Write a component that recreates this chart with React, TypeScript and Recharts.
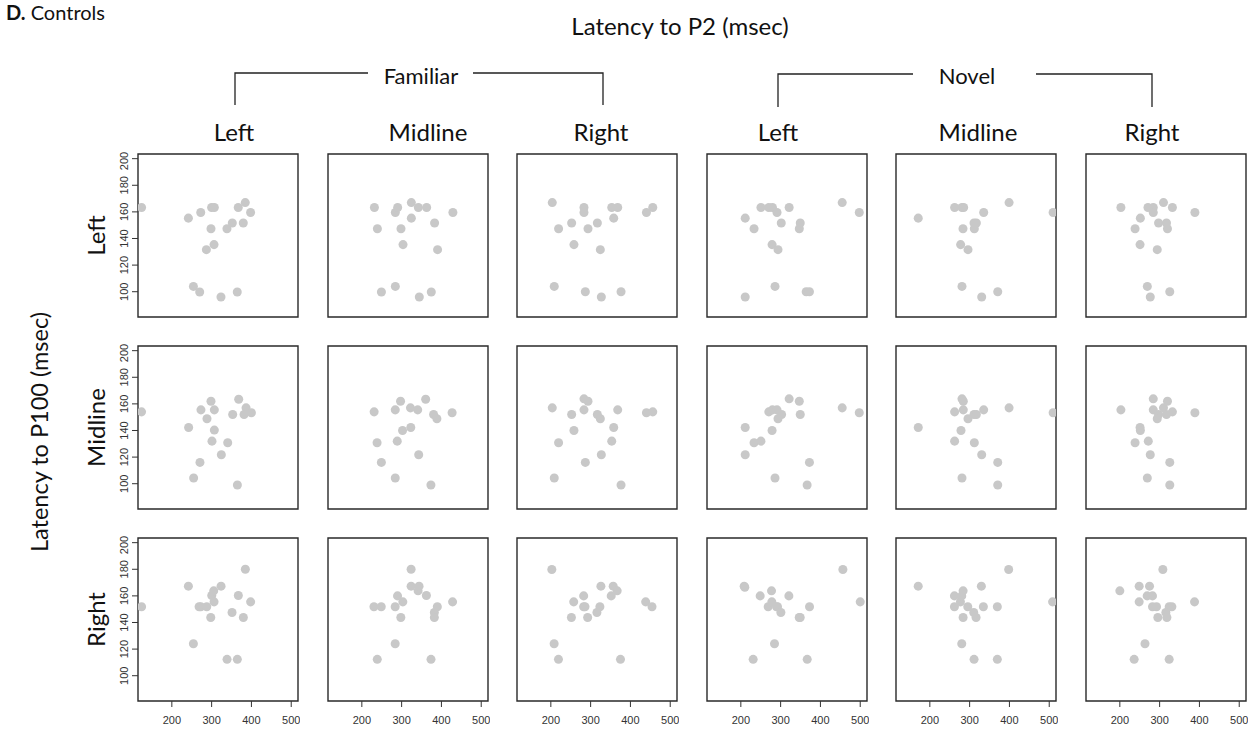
import React from "react";
import {
  ScatterChart,
  Scatter,
  XAxis,
  YAxis,
  ZAxis,
  ReferenceArea,
} from "recharts";

// P2 latency (x) vs P100 latency (y), msec. Rows = P100 site, columns = P2 condition/site
const rowLabels = ["Left", "Midline", "Right"];
const colLabels = ["Left", "Midline", "Right", "Left", "Midline", "Right"];
const groupLabels = ["Familiar", "Novel"];
const xTicks = [200, 300, 400, 500];
const yTicks = [100, 120, 140, 160, 180, 200];

// row: P100 Left
const leftFamLeft = [[124, 163.3], [241.6, 155.3], [272.6, 159.5], [254.2, 104], [270, 99.8], [286.8, 131.6], [298.4, 147.3], [300, 163.3], [306.8, 163.3], [306, 135.4], [323.5, 96], [338.5, 147.3], [351.9, 151.6], [366.9, 163.3], [364.4, 99.8], [379.5, 151.6], [384.5, 167], [397.9, 159.5]];
const leftFamMid = [[231.6, 163.3], [239.1, 147.3], [249.2, 99.8], [284.2, 159.5], [290, 163.3], [298.4, 147.3], [284.2, 104], [303.5, 135.4], [324.4, 167], [324.4, 155.3], [342, 163.3], [344.4, 96], [362.8, 163.3], [382.8, 151.6], [374.5, 99.8], [390.3, 131.6], [428.8, 159.5]];
const leftFamRight = [[203.6, 167], [219.5, 147.3], [208.6, 104], [252.3, 151.6], [258.1, 135.4], [283.3, 163.3], [283.3, 159.5], [286.7, 100], [293.4, 147.3], [316.9, 151.6], [324.4, 131.6], [326.9, 96], [353, 163.3], [368, 163.3], [358, 155.3], [376.4, 100], [440.2, 159.5], [456.1, 163.3]];
const leftNovLeft = [[211, 155.3], [211, 96], [233.2, 147.3], [250.5, 163.3], [270.3, 163.3], [279.4, 163.3], [290.9, 159.5], [278.5, 135.4], [293.4, 131.6], [285.9, 104], [301.6, 151.6], [321.4, 163.3], [346.9, 147.3], [349.3, 151.6], [364.2, 100], [372.4, 100], [454.7, 167], [497.6, 159.5]];
const leftNovMid = [[170.9, 155.3], [262.3, 163.3], [280.8, 163.3], [285, 163.3], [335.3, 159.5], [399.1, 167], [509.8, 159.5], [311, 151.6], [316.9, 151.6], [283.3, 147.3], [311.8, 147.3], [277.4, 135.4], [295.9, 131.6], [280.8, 104], [330.3, 96], [370.6, 100]];
const leftNovRight = [[202.7, 163.3], [251.6, 155.3], [238.3, 147.3], [250.8, 135.4], [270.7, 163.3], [284, 163.3], [284, 159.5], [309.7, 167], [332.1, 163.3], [297.3, 151.6], [317.2, 151.6], [319.7, 147.3], [294, 131.6], [388.6, 159.5], [269.1, 104], [276.5, 96], [325.5, 100]];

// row: P100 Midline
const midFamLeft = [[123.9, 154], [242.2, 142.3], [273.2, 155.5], [298.4, 162], [306.8, 155.5], [288.3, 148.8], [306.8, 140.3], [300.9, 132], [340.4, 130.8], [324.4, 121.8], [270.7, 116], [254.8, 104.3], [368, 163.5], [352.9, 152], [381.5, 152], [386.5, 157], [399.9, 153.3], [364.7, 99]];
const midFamMid = [[230.9, 154], [238.3, 130.8], [249.1, 116], [284, 104.3], [284, 155.5], [297.3, 162], [289, 132], [302.3, 140], [322.2, 157], [323, 142.3], [340.4, 155.5], [360.4, 163.5], [342.9, 121.8], [380.3, 152], [388.6, 148.8], [373.6, 99], [426.8, 153.3]];
const midFamRight = [[203.6, 157], [219.5, 130.8], [208.6, 104.3], [252.3, 152], [258.1, 140], [283.3, 163.8], [293.4, 162], [283.3, 155.5], [286.7, 116], [316.9, 152], [324.4, 148.8], [326.9, 121.8], [353, 132], [358, 142.3], [368, 155.5], [376.4, 99], [440.2, 153.3], [456.1, 154]];
const midNovLeft = [[211, 142.3], [211, 121.8], [233.2, 130.8], [250.5, 132], [270.3, 154], [279.4, 155.5], [290.9, 155.5], [278.5, 140], [293.4, 148.8], [302.4, 152], [285.9, 104.3], [321.4, 163.8], [346.9, 162], [349.3, 152], [372.4, 116], [366.6, 99], [454.7, 157], [497.6, 153.3]];
const midNovMid = [[170.9, 142.3], [262.3, 154], [262.3, 132], [280.8, 163.8], [284.1, 162], [284.1, 155.5], [278.3, 140], [280.8, 104.3], [295.9, 148.8], [311, 152], [316.9, 152], [311.8, 130.8], [330.3, 121.8], [335.3, 155.5], [370.6, 116], [370.6, 99], [399.1, 157], [509.8, 153.3]];
const midNovRight = [[202.7, 155.5], [250.8, 142.3], [251.6, 140], [238.3, 130.8], [271.5, 132], [276.5, 121.8], [269.1, 104.3], [284, 163.8], [284, 155.5], [297.3, 152], [294, 148.8], [309.7, 157], [319.7, 162], [317.2, 152], [332.1, 154], [325.5, 116], [325.5, 99], [388.6, 153.3]];

// row: P100 Right
const rightFamLeft = [[124, 151.8], [241.6, 167.3], [254.2, 124], [268.5, 151.8], [272.7, 151.8], [287.7, 151.8], [297.8, 143.8], [300.3, 160.3], [305.3, 163.8], [306.1, 155.5], [323.7, 167.3], [338.7, 112.3], [351.3, 147.5], [367.1, 160.3], [364.6, 112.3], [379.7, 143.8], [384.7, 180], [398, 155.5]];
const rightFamMid = [[230.5, 151.8], [248.8, 151.8], [238.8, 112.3], [283.8, 151.8], [289.7, 160], [298, 143.8], [303, 155.5], [283.8, 124], [323.8, 180], [323.8, 167.3], [341.3, 163.8], [343.8, 167.3], [362.2, 160.3], [373.8, 112.3], [382.2, 147.5], [382.2, 143.8], [389.7, 151.8], [428, 155.5]];
const rightFamRight = [[202.5, 179.8], [208.3, 124], [219.2, 112.3], [251.7, 143.8], [257.5, 155.5], [282.5, 160], [282.5, 151.8], [285.8, 151.8], [292.5, 143.8], [315.8, 147.5], [323.3, 151.8], [325.8, 167.3], [351.7, 160], [356.7, 167.3], [366.7, 163.8], [375, 112.3], [438.3, 155.5], [454.2, 151.8]];
const rightNovLeft = [[208.4, 167.3], [210, 166.5], [231, 112.3], [248.6, 160], [268.7, 151.8], [277.1, 163.8], [277.9, 155.5], [284.6, 124], [289.7, 151.8], [292.2, 151.8], [300.6, 147.5], [320.7, 160], [346.7, 143.8], [349.2, 143.8], [366.8, 112.3], [372.6, 151.8], [456.4, 179.8], [500, 155.5]];
const rightNovMid = [[170.8, 167.3], [261.8, 160], [261.8, 151.8], [276.9, 155.5], [280.2, 160], [283.6, 163.8], [283.6, 143.8], [280.2, 124], [295.3, 151.8], [310.3, 147.5], [316.2, 143.8], [311.1, 112.3], [329.5, 167.3], [334.5, 151.8], [369.6, 151.8], [369.6, 112.3], [398.1, 179.8], [508.4, 155.5]];
const rightNovRight = [[200, 163.8], [248.6, 167.3], [248.6, 155.5], [236, 112.3], [268.7, 160], [274.6, 167.3], [282.1, 160], [282.1, 151.8], [292.2, 151.8], [295.5, 143.8], [263.2, 124], [308.1, 179.8], [315.6, 147.5], [318.2, 143.8], [324, 151.8], [330.7, 151.8], [324, 112.3], [387.7, 155.5]];

const panelRows = [
  [leftFamLeft, leftFamMid, leftFamRight, leftNovLeft, leftNovMid, leftNovRight],
  [midFamLeft, midFamMid, midFamRight, midNovLeft, midNovMid, midNovRight],
  [rightFamLeft, rightFamMid, rightFamRight, rightNovLeft, rightNovMid, rightNovRight],
];

const X_DOMAIN = [115, 517];
const Y_DOMAIN = [81, 203.5];
const X0 = 138;
const DX = 189.5;
const Y0 = 154;
const DY = 192;
const PW = 160;
const PH = 163;
const YAW = 40; // y axis width
const XAH = 36; // x axis height
const PAD = 2;

const TICK_FONT = "'Liberation Sans', Arial, Helvetica, sans-serif";
const LABEL_FONT = "Lato, 'Open Sans', sans-serif";

const YTick = (props: any) => {
  const { x, y, payload } = props;
  return (
    <text
      x={x}
      y={y}
      transform={`rotate(-90, ${x}, ${y})`}
      textAnchor="middle"
      fontSize={11}
      fontFamily={TICK_FONT}
      fill="#333"
    >
      {payload.value}
    </text>
  );
};

const Panel = ({ data, row, col }: any) => {
  const showX = row === 2;
  const showY = col === 0;
  const pts = data.map((d: number[]) => ({ x: d[0], y: d[1] }));
  return (
    <div
      style={{
        position: "absolute",
        left: X0 + col * DX - YAW,
        top: Y0 + row * DY - PAD,
      }}
    >
      <ScatterChart
        width={YAW + PW + PAD}
        height={PAD + PH + XAH}
        margin={{
          top: PAD,
          right: PAD,
          left: showY ? 0 : YAW,
          bottom: showX ? 0 : XAH,
        }}
      >
        <XAxis
          type="number"
          dataKey="x"
          domain={X_DOMAIN}
          ticks={xTicks}
          hide={!showX}
          height={XAH}
          axisLine={false}
          tickSize={6}
          tickMargin={9}
          tickLine={{ stroke: "#333" }}
          tick={{ fontSize: 11, fontFamily: TICK_FONT, fill: "#333" }}
          allowDataOverflow
        />
        <YAxis
          type="number"
          dataKey="y"
          domain={Y_DOMAIN}
          ticks={yTicks}
          hide={!showY}
          width={YAW}
          axisLine={false}
          tickSize={6}
          tickMargin={4}
          tickLine={{ stroke: "#333" }}
          tick={<YTick />}
          allowDataOverflow
        />
        <ZAxis range={[22, 22]} />
        <ReferenceArea
          x1={X_DOMAIN[0]}
          x2={X_DOMAIN[1]}
          y1={Y_DOMAIN[0]}
          y2={Y_DOMAIN[1]}
          fill="none"
          stroke="#2a2a2a"
          strokeWidth={1.4}
          fillOpacity={0}
        />
        <Scatter data={pts} fill="#c8c8c8" isAnimationActive={false} />
      </ScatterChart>
    </div>
  );
};

const App = () => {
  return (
    <div
      style={{
        position: "absolute",
        left: 0,
        top: 0,
        width: 1254,
        height: 730,
        background: "#fff",
        overflow: "hidden",
      }}
    >
      <svg
        width={1254}
        height={730}
        style={{ position: "absolute", left: 0, top: 0 }}
        fontFamily={LABEL_FONT}
      >
        <text x={6} y={20} fontSize={20} fill="#111">
          <tspan fontWeight="bold">D.</tspan> Controls
        </text>
        <text x={680} y={35} fontSize={24} textAnchor="middle" fill="#111">
          Latency to P2 (msec)
        </text>
        <text
          transform="translate(48, 432) rotate(-90)"
          fontSize={23.5}
          textAnchor="middle"
          fill="#111"
        >
          Latency to P100 (msec)
        </text>

        {/* group brackets */}
        <path d="M235,105 V73 H368 M473,73 H603 V105" fill="none" stroke="#222" strokeWidth={1.3} />
        <path d="M778,107 V74 H913 M1036,74 H1152 V107" fill="none" stroke="#222" strokeWidth={1.3} />
        <text x={421} y={84} fontSize={22} textAnchor="middle" fill="#111">
          {groupLabels[0]}
        </text>
        <text x={967} y={84} fontSize={22} textAnchor="middle" fill="#111">
          {groupLabels[1]}
        </text>

        {colLabels.map((lab, i) => (
          <text
            key={"c" + i}
            x={[234, 428, 601, 778, 978, 1152][i]}
            y={141}
            fontSize={24}
            textAnchor="middle"
            fill="#111"
          >
            {lab}
          </text>
        ))}
        {rowLabels.map((lab, i) => (
          <text
            key={"r" + i}
            transform={`translate(105, ${Y0 + i * DY + PH / 2}) rotate(-90)`}
            fontSize={24}
            textAnchor="middle"
            fill="#111"
          >
            {lab}
          </text>
        ))}
      </svg>

      {panelRows.map((row, r) =>
        row.map((data, c) => <Panel key={r + "-" + c} data={data} row={r} col={c} />)
      )}
    </div>
  );
};

export default App;
